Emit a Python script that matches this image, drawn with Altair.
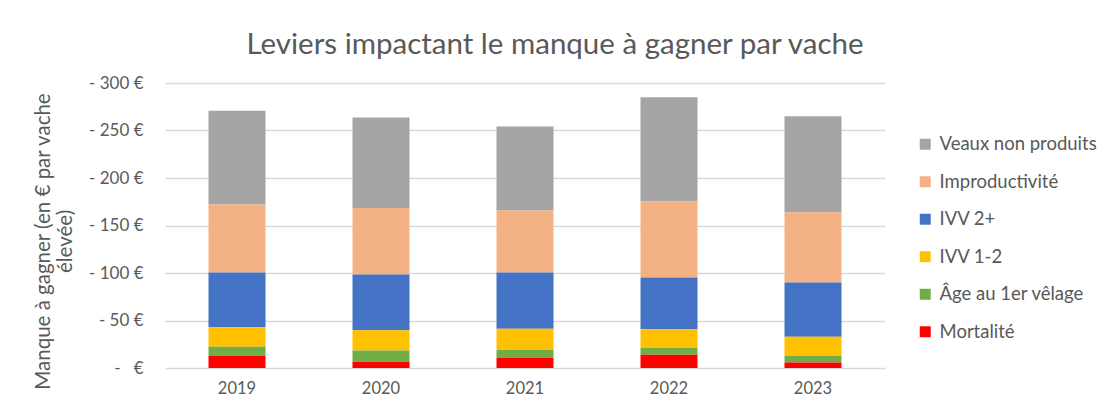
import altair as alt
import pandas as pd

years = ["2019", "2020", "2021", "2022", "2023"]
series = ["Veaux non produits", "Improductivité", "IVV 2+", "IVV 1-2", "Âge au 1er vêlage", "Mortalité"]
colors = ["#A5A5A5", "#F4B183", "#4472C4", "#FFC000", "#70AD47", "#FF0000"]

mortalite = [13.0, 6.7, 10.9, 14.0, 5.9]
age_velage = [9.5, 11.6, 8.4, 7.4, 7.1]
ivv_12 = [20.3, 21.4, 22.1, 19.3, 20.0]
ivv_2p = [57.7, 58.6, 59.1, 54.5, 56.9]
improductivite = [71.6, 70.0, 65.3, 80.4, 74.1]
veaux = [98.8, 95.5, 88.5, 109.3, 100.9]

values_by_series = {
    "Veaux non produits": veaux,
    "Improductivité": improductivite,
    "IVV 2+": ivv_2p,
    "IVV 1-2": ivv_12,
    "Âge au 1er vêlage": age_velage,
    "Mortalité": mortalite,
}

rows = []
for s in series:
    for y, v in zip(years, values_by_series[s]):
        rows.append({"Année": y, "Levier": s, "Valeur": v, "rang": len(series) - series.index(s)})
df = pd.DataFrame(rows)

FONT = "Lato"
GREY = "#595959"

chart = alt.Chart(df).mark_bar(size=57).encode(
    x=alt.X("Année:N", sort=years, scale=alt.Scale(paddingInner=0.6, paddingOuter=0.3),
            axis=alt.Axis(title=None, labelAngle=0, domain=False, ticks=False, labelPadding=12,
                          labelFontSize=16.5, labelColor=GREY, labelFont=FONT)),
    y=alt.Y("Valeur:Q", stack="zero", scale=alt.Scale(domain=[0, 300], nice=False),
            axis=alt.Axis(values=[0, 50, 100, 150, 200, 250, 300],
                          labelExpr="datum.value == 0 ? '-\u00a0\u00a0\u00a0€' : '- ' + datum.value + ' €'",
                          title=["Manque à gagner (en € par vache", "élevée)"],
                          titleFontSize=20.5, titleColor=GREY, titleFont=FONT, titleFontWeight="normal",
                          titlePadding=13, titleY=158,
                          labelFontSize=17, labelColor=GREY, labelFont=FONT, labelPadding=22,
                          domain=False, ticks=False, grid=True, gridColor="#D9D9D9", gridWidth=1.5)),
    color=alt.Color("Levier:N", sort=series,
                    scale=alt.Scale(domain=series, range=colors),
                    legend=alt.Legend(title=None, orient="none", legendX=751, legendY=52,
                                      symbolType="square", symbolSize=120, symbolStrokeWidth=0,
                                      labelFontSize=18.5, labelColor=GREY, labelFont=FONT,
                                      labelLimit=300, rowPadding=18.5, labelOffset=5)),
    order=alt.Order("rang:Q", sort="ascending"),
).properties(
    width=720,
    height=285,
    title=alt.TitleParams("Leviers impactant le manque à gagner par vache", fontSize=29.5,
                          font=FONT, color=GREY, fontWeight="normal", offset=14, dx=30),
    autosize=alt.AutoSizeParams(type="none"),
    padding={"left": 157, "top": 75, "right": 216, "bottom": 30},
).configure_view(stroke=None)

chart.save("out.html", embed_options={"renderer": "svg", "actions": False})
